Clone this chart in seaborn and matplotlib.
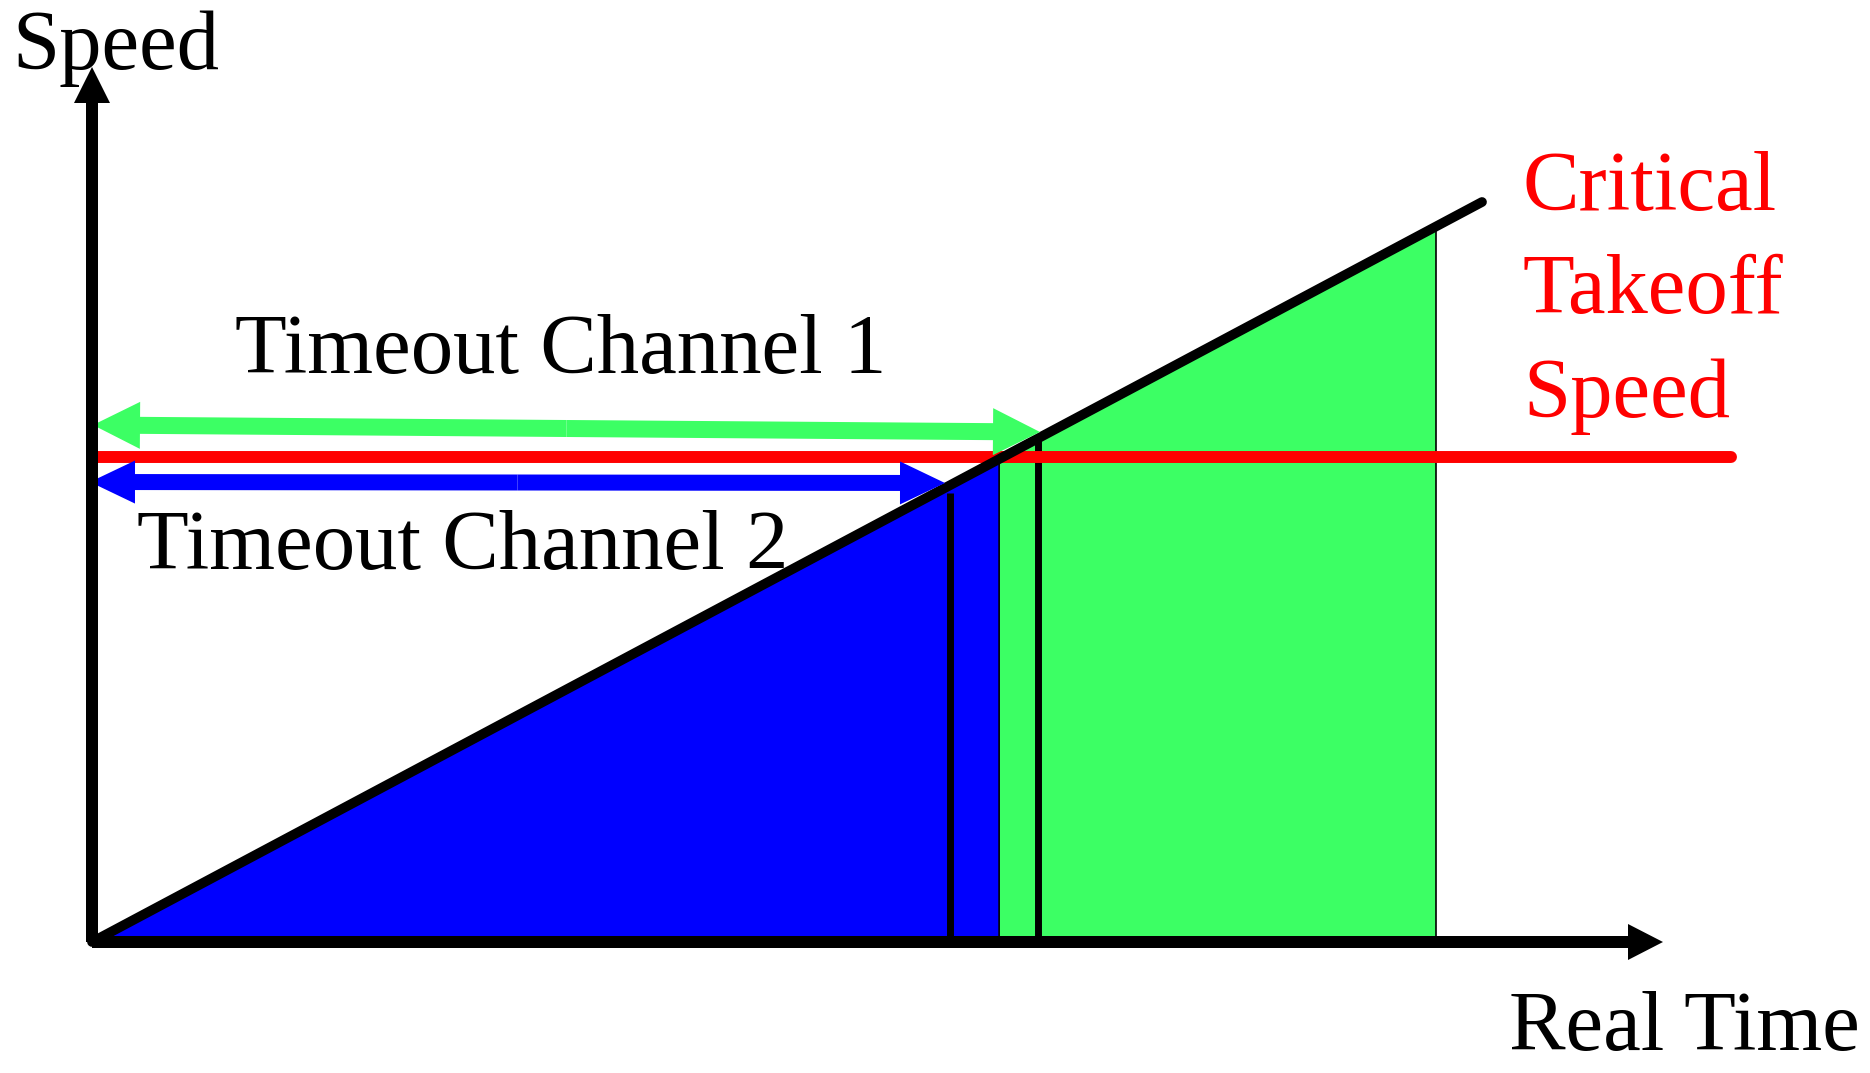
import numpy as np
import matplotlib.pyplot as plt
import seaborn as sns
import pandas as pd

sns.set_theme(style="white")
plt.rcParams['font.family'] = ['Liberation Serif', 'DejaVu Serif']

# diagram values (time / speed units)
line_time = [0.0, 13.90]
line_speed = [0.0, 7.40]
critical_speed = 4.85
critical_time = [0.0, 16.39]

blue_time = [0.0, 9.07, 9.07]
blue_speed = [0.0, 4.83, 0.0]
green_time = [9.07, 9.07, 13.44, 13.44]
green_speed = [0.0, 4.83, 7.15, 0.0]

timeout_time = [8.58, 9.46]
timeout_top = [4.49, 5.03]

arrow1_time = [0.01, 9.48]
arrow1_speed = [5.17, 5.10]
arrow2_time = [-0.02, 8.53]
arrow2_speed = [4.60, 4.59]

axis_x_end = 15.71
axis_y_end = 8.75

green = '#3CFF64'
blue = '#0000FF'
red = '#FF0000'

fig = plt.figure(figsize=(18.7, 10.73), dpi=100)
ax = fig.add_axes([0, 0, 1, 1])
ax.set_xlim(-0.92, 17.78)
ax.set_ylim(-1.31, 9.42)
ax.axis('off')

# filled regions
ax.fill(green_time, green_speed, color=green, ec='black', lw=1.2, zorder=1)
ax.fill(blue_time, blue_speed, color=blue, ec='black', lw=1.0, zorder=2)

# timeout markers
for t, top in zip(timeout_time, timeout_top):
    ax.plot([t, t], [0, top], color='black', lw=5.0, solid_capstyle='butt', zorder=3)

# critical speed line
df_crit = pd.DataFrame({'t': critical_time, 'v': [critical_speed] * 2})
sns.lineplot(data=df_crit, x='t', y='v', ax=ax, color=red, lw=8.6, zorder=4)

# acceleration line
df_line = pd.DataFrame({'t': line_time, 'v': line_speed})
sns.lineplot(data=df_line, x='t', y='v', ax=ax, color='black', lw=7.0, zorder=5)
ax.set_xlabel('')
ax.set_ylabel('')


def double_arrow(ts, vs, color, width, hw, hl):
    mt = (ts[0] + ts[1]) / 2
    mv = (vs[0] + vs[1]) / 2
    for t, v in zip(ts, vs):
        ax.arrow(mt, mv, t - mt, v - mv, width=width, head_width=hw, head_length=hl,
                 length_includes_head=True, color=color, lw=0, zorder=6)


double_arrow(arrow1_time, arrow1_speed, green, 0.17, 0.47, 0.47)
double_arrow(arrow2_time, arrow2_speed, blue, 0.16, 0.43, 0.45)

# axes arrows
ax.arrow(0, 0, axis_x_end, 0, width=0.12, head_width=0.36, head_length=0.35,
         length_includes_head=True, color='black', lw=0, zorder=7)
ax.arrow(0, 0, 0, axis_y_end, width=0.12, head_width=0.36, head_length=0.36,
         length_includes_head=True, color='black', lw=0, zorder=7)

fs = 61
ax.text(-0.80, 9.32, 'Speed', fontsize=fs, color='black', va='top', ha='left')
ax.text(17.68, -1.08, 'Real Time', fontsize=fs, color='black', va='baseline', ha='right')
ax.text(1.43, 5.90, 'Timeout Channel 1', fontsize=fs, color='black', va='center', ha='left')
ax.text(0.45, 3.93, 'Timeout Channel 2', fontsize=fs, color='black', va='center', ha='left')
ax.text(14.31, 6.49, 'Critical\nTakeoff\nSpeed', fontsize=fs, color=red, va='center',
        ha='left', linespacing=1.45)

fig.savefig('out.png', dpi=100)
